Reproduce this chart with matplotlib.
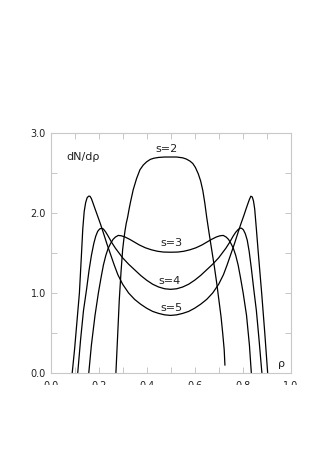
import matplotlib
matplotlib.use("Agg")
import matplotlib.pyplot as plt
from matplotlib.patches import Rectangle

# ---- data ----
s2_x = [0.272, 0.279, 0.286, 0.293, 0.300, 0.305, 0.310, 0.315, 0.321, 0.327, 0.333, 0.344, 0.358, 0.372,
        0.386, 0.400, 0.415, 0.430, 0.450, 0.475, 0.500, 0.525, 0.550, 0.565, 0.580, 0.592, 0.603, 0.615,
        0.625, 0.634, 0.642, 0.650, 0.660, 0.671, 0.682, 0.692, 0.701, 0.710, 0.717, 0.723, 0.726]
s2_y = [0.00, 0.45, 0.91, 1.25, 1.54, 1.67, 1.78, 1.87, 1.95, 2.05, 2.14, 2.29, 2.43, 2.54,
        2.60, 2.64, 2.67, 2.685, 2.695, 2.70, 2.70, 2.70, 2.69, 2.675, 2.65, 2.62, 2.57, 2.49,
        2.40, 2.28, 2.13, 1.95, 1.75, 1.54, 1.33, 1.12, 0.91, 0.70, 0.49, 0.29, 0.10]

s3_x = [0.159, 0.170, 0.185, 0.199, 0.210, 0.220, 0.230, 0.240, 0.250, 0.260, 0.270, 0.282, 0.295, 0.310,
        0.330, 0.350, 0.370, 0.395, 0.420, 0.445, 0.470, 0.500, 0.530, 0.555, 0.580, 0.605, 0.630, 0.650,
        0.670, 0.690, 0.705, 0.719, 0.731, 0.741, 0.751, 0.761, 0.771, 0.781, 0.791, 0.802, 0.816, 0.828, 0.836]
s3_y = [0.00, 0.35, 0.72, 1.00, 1.19, 1.35, 1.47, 1.56, 1.62, 1.67, 1.70, 1.72, 1.715, 1.70,
        1.67, 1.635, 1.60, 1.565, 1.54, 1.522, 1.512, 1.51, 1.512, 1.522, 1.54, 1.565, 1.60, 1.635,
        1.67, 1.70, 1.715, 1.72, 1.70, 1.67, 1.62, 1.56, 1.47, 1.35, 1.19, 1.00, 0.72, 0.35, 0.00]

s4_x = [0.113, 0.125, 0.137, 0.150, 0.160, 0.170, 0.180, 0.188, 0.196, 0.204, 0.212, 0.220, 0.230, 0.240,
        0.255, 0.270, 0.285, 0.300, 0.325, 0.350, 0.375, 0.400, 0.425, 0.450, 0.475, 0.500, 0.525, 0.550,
        0.575, 0.600, 0.625, 0.650, 0.675, 0.700, 0.715, 0.730, 0.745, 0.760, 0.771, 0.780, 0.788, 0.795,
        0.803, 0.811, 0.819, 0.827, 0.836, 0.846, 0.857, 0.868, 0.880]
s4_y = [0.00, 0.42, 0.78, 1.05, 1.28, 1.47, 1.62, 1.71, 1.77, 1.80, 1.81, 1.80, 1.76, 1.71,
        1.63, 1.56, 1.50, 1.44, 1.36, 1.29, 1.22, 1.16, 1.11, 1.075, 1.053, 1.046, 1.053, 1.075,
        1.11, 1.16, 1.22, 1.29, 1.36, 1.44, 1.50, 1.56, 1.63, 1.71, 1.76, 1.79, 1.81, 1.81,
        1.79, 1.74, 1.66, 1.52, 1.31, 1.05, 0.78, 0.42, 0.00]

s5_x = [0.090, 0.100, 0.110, 0.120, 0.128, 0.134, 0.140, 0.146, 0.152, 0.158, 0.164, 0.170, 0.176, 0.183,
        0.195, 0.208, 0.220, 0.235, 0.250, 0.265, 0.280, 0.300, 0.325, 0.350, 0.375, 0.400, 0.425, 0.450,
        0.475, 0.500, 0.525, 0.550, 0.575, 0.600, 0.625, 0.650, 0.675, 0.700, 0.720, 0.735, 0.750, 0.765,
        0.780, 0.792, 0.805, 0.815, 0.822, 0.828, 0.834, 0.840, 0.845, 0.850, 0.857, 0.865, 0.879, 0.892, 0.904]
s5_y = [0.00, 0.30, 0.65, 1.00, 1.45, 1.80, 2.02, 2.13, 2.19, 2.21, 2.21, 2.18, 2.13, 2.07,
        1.97, 1.86, 1.75, 1.61, 1.48, 1.35, 1.23, 1.11, 1.00, 0.92, 0.86, 0.81, 0.77, 0.745,
        0.727, 0.72, 0.727, 0.745, 0.77, 0.81, 0.86, 0.92, 1.00, 1.11, 1.23, 1.35, 1.48, 1.61,
        1.75, 1.86, 1.97, 2.06, 2.12, 2.17, 2.21, 2.20, 2.15, 2.05, 1.80, 1.50, 1.00, 0.50, 0.00]

labels = ["s=2", "s=3", "s=4", "s=5"]
label_x = [0.483, 0.504, 0.497, 0.504]
label_y = [2.80, 1.63, 1.15, 0.81]

x_ticks = [0.0, 0.2, 0.4, 0.6, 0.8, 1.0]
x_ticklabels = ["0.0", "0.2", "0.4", "0.6", "0.8", "1.0"]
y_ticks = [0.0, 1.0, 2.0, 3.0]
y_ticklabels = ["0.0", "1.0", "2.0", "3.0"]

# ---- figure ----
fig = plt.figure(figsize=(3.15, 4.54), dpi=100)
ax = fig.add_axes([0.1606, 0.1784, 0.7623, 0.5286])

for xs, ys in [(s2_x, s2_y), (s3_x, s3_y), (s4_x, s4_y), (s5_x, s5_y)]:
    ax.plot(xs, ys, color="black", lw=0.9, solid_joinstyle="round")

for t, lx, ly in zip(labels, label_x, label_y):
    ax.text(lx, ly, t, ha="center", va="center", fontsize=8, color="#222222")

ax.text(0.067, 2.70, "dN/dρ", ha="left", va="center", fontsize=8, color="#222222")
ax.text(0.96, 0.11, "ρ", ha="center", va="center", fontsize=8, color="#222222")

ax.set_xlim(0, 1)
ax.set_ylim(0, 3)
ax.set_xticks(x_ticks)
ax.set_xticklabels(x_ticklabels)
ax.set_yticks(y_ticks)
ax.set_yticklabels(y_ticklabels)
ax.set_xticks([0.1, 0.3, 0.5, 0.7, 0.9], minor=True)
ax.set_yticks([0.5, 1.5, 2.5], minor=True)

for sp in ax.spines.values():
    sp.set_color("#c8c8c8")
    sp.set_linewidth(0.8)

ax.tick_params(which="both", direction="in", length=4, width=0.7, color="#c8c8c8",
               top=True, right=True, labelsize=7, labelcolor="#222222")
ax.tick_params(axis="x", pad=5.5)

# the reference shows the bottom tick labels clipped
fig.add_artist(Rectangle((0, 0), 1, (454 - 385) / 454, transform=fig.transFigure,
                         facecolor="white", edgecolor="none", zorder=10))

fig.savefig("out.png", dpi=100)
